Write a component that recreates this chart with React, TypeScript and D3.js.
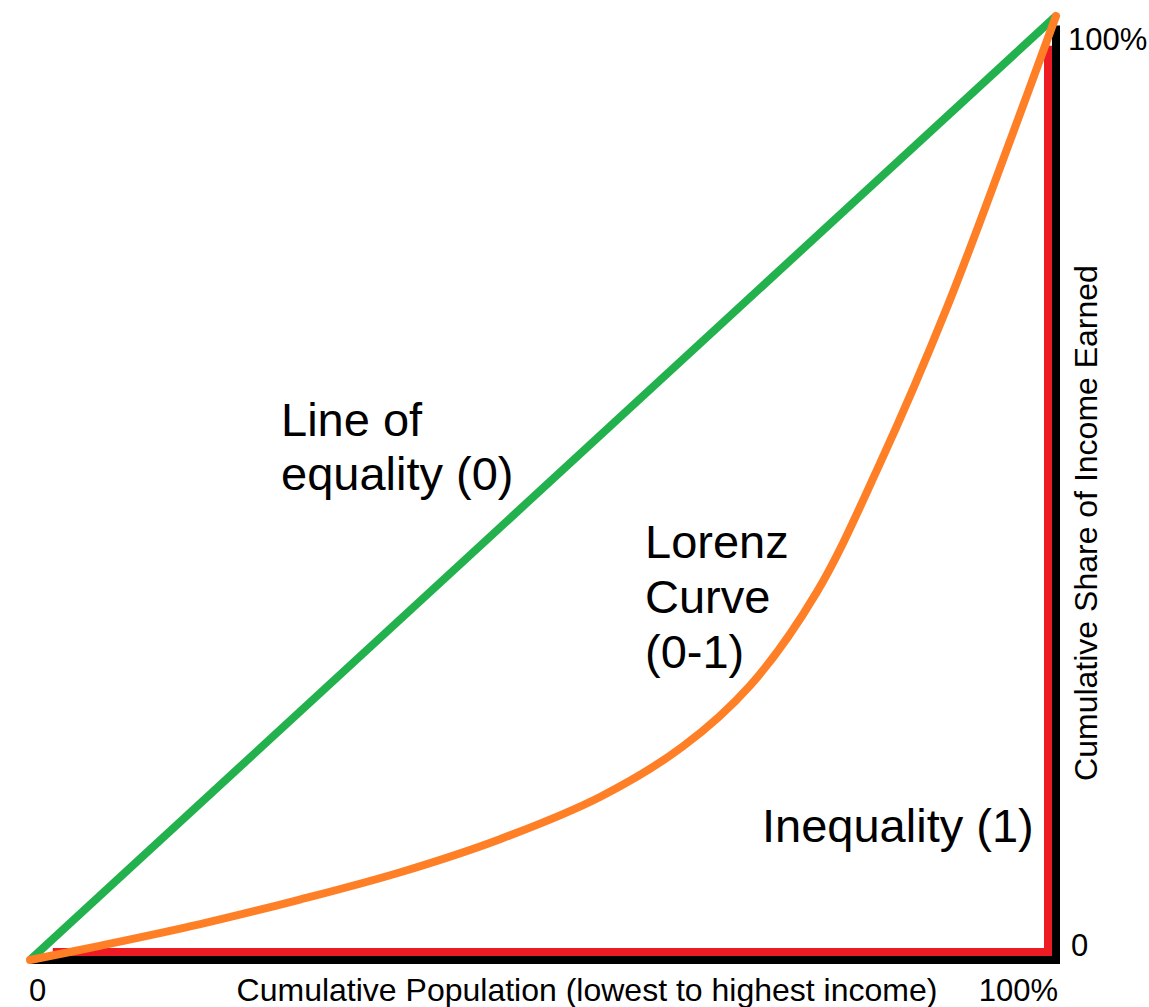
import React, { useEffect, useRef } from 'react'
import * as d3 from 'd3'

// Cumulative population share (%) and cumulative income share (%)
const populationShare = [0, 6.8, 16.6, 26.3, 36.1, 45.8, 55.6, 63.6, 70.2, 76.7, 82.8, 89.4, 95.8, 100]
const lorenzShare = [0, 1.5, 3.8, 6.4, 9.3, 12.8, 17.3, 22.6, 29.1, 39.0, 52.5, 69.2, 87.6, 100]

// Line of equality and perfect inequality
const equalityX = [0, 100]
const equalityY = [0, 100]
const inequalityX = [3, 100, 100]
const inequalityY = [0, 0, 96]
const axisX = [0, 100, 100]
const axisY = [0, 0, 99]

// Labels
const xTickLabels = ['0', '100%']
const yTickLabels = ['0', '100%']
const xTitle = 'Cumulative Population (lowest to highest income)'
const yTitle = 'Cumulative Share of Income Earned'
const equalityLabel = ['Line of', 'equality (0)']
const lorenzLabel = ['Lorenz', 'Curve', '(0-1)']
const inequalityLabel = ['Inequality (1)']

const width = 1149
const height = 1007

export default function App() {
    const ref = useRef<SVGSVGElement>(null)

    useEffect(() => {
        var svg = d3.select(ref.current)
        svg.selectAll('*').remove()

        // Scales
        var xScale = d3.scaleLinear().domain([0, 100]).range([30, 1056])
        var yScale = d3.scaleLinear().domain([0, 100]).range([960, 16])

        var line = d3.line<[number, number]>()
            .x(d => xScale(d[0]))
            .y(d => yScale(d[1]))

        var zip = (xs: number[], ys: number[]) => xs.map((x, i) => [x, ys[i]] as [number, number])

        // Black axes
        svg.append('path')
            .attr('d', line(zip(axisX, axisY)))
            .attr('fill', 'none')
            .attr('stroke', '#000')
            .attr('stroke-width', 8)
            .attr('stroke-linejoin', 'miter')

        // Perfect inequality (red), set just inside the axes
        svg.append('path')
            .attr('d', line(zip(inequalityX, inequalityY)))
            .attr('transform', 'translate(-8,-8)')
            .attr('fill', 'none')
            .attr('stroke', '#ed1c24')
            .attr('stroke-width', 8)
            .attr('stroke-linejoin', 'miter')

        // Line of equality
        svg.append('path')
            .attr('d', line(zip(equalityX, equalityY)))
            .attr('fill', 'none')
            .attr('stroke', '#22b14c')
            .attr('stroke-width', 8)

        // Lorenz curve
        var curve = d3.line<[number, number]>()
            .x(d => xScale(d[0]))
            .y(d => yScale(d[1]))
            .curve(d3.curveCatmullRom.alpha(0.5))
        svg.append('path')
            .attr('d', curve(zip(populationShare, lorenzShare)))
            .attr('fill', 'none')
            .attr('stroke', '#ff7f27')
            .attr('stroke-width', 8)
            .attr('stroke-linecap', 'round')

        var font = 'Arial, "Liberation Sans", sans-serif'

        // Multi-line labels
        var addLines = (lines: string[], x: number, y: number, step: number) => {
            lines.forEach((t, i) => {
                svg.append('text')
                    .text(t)
                    .attr('x', x)
                    .attr('y', y + i * step)
                    .attr('font-family', font)
                    .attr('font-size', '47px')
                    .attr('fill', '#000')
            })
        }
        addLines(equalityLabel, 281, 436, 54)
        addLines(lorenzLabel, 645, 558, 55)
        addLines(inequalityLabel, 762, 842, 0)

        // X tick labels
        svg.append('text')
            .text(xTickLabels[0])
            .attr('x', 29)
            .attr('y', 1001)
            .attr('font-family', font)
            .attr('font-size', '31px')
        svg.append('text')
            .text(xTickLabels[1])
            .attr('x', 1058)
            .attr('y', 1001)
            .attr('text-anchor', 'end')
            .attr('font-family', font)
            .attr('font-size', '31px')

        // Y tick labels
        svg.append('text')
            .text(yTickLabels[0])
            .attr('x', 1071)
            .attr('y', yScale(0) - 4)
            .attr('font-family', font)
            .attr('font-size', '31px')
        svg.append('text')
            .text(yTickLabels[1])
            .attr('x', 1068)
            .attr('y', 50)
            .attr('font-family', font)
            .attr('font-size', '31px')

        // Axis titles
        svg.append('text')
            .text(xTitle)
            .attr('x', 587)
            .attr('y', 1001)
            .attr('text-anchor', 'middle')
            .attr('font-family', font)
            .attr('font-size', '32px')
        svg.append('text')
            .text(yTitle)
            .attr('transform', 'translate(1097,523) rotate(-90)')
            .attr('text-anchor', 'middle')
            .attr('font-family', font)
            .attr('font-size', '32px')
    }, [])

    return (
        <svg
            ref={ref}
            width={width}
            height={height}
            style={{ position: 'absolute', left: 0, top: 0, background: '#fff' }}
        />
    )
}
